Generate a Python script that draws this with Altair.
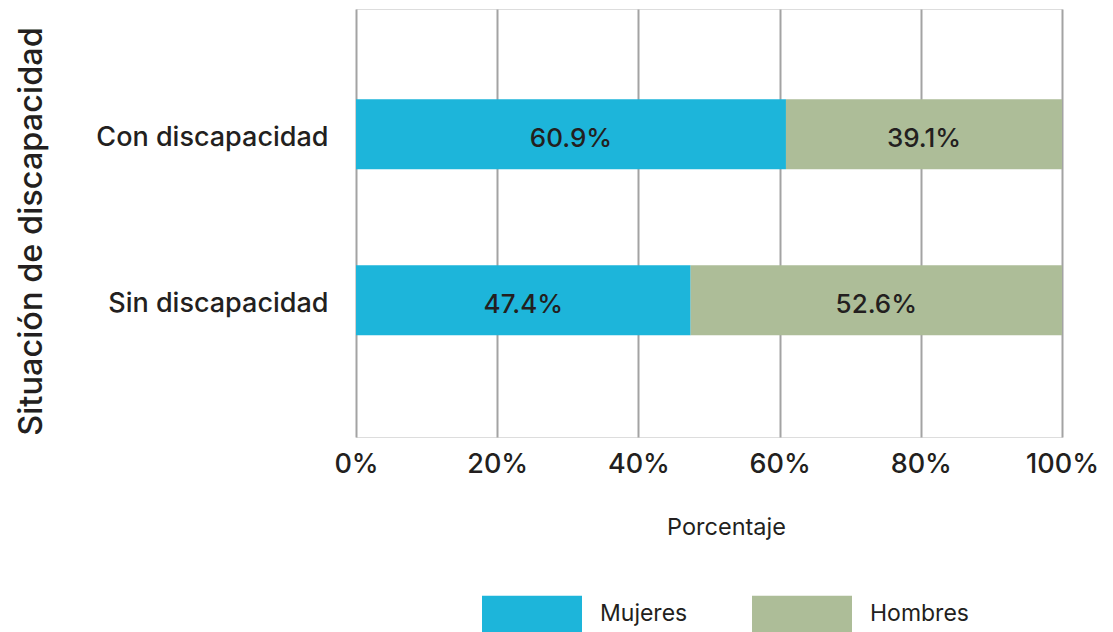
import altair as alt
import pandas as pd

categories = ["Con discapacidad", "Sin discapacidad"]
series = ["Mujeres", "Hombres"]
mujeres = [60.9, 47.4]
hombres = [39.1, 52.6]
colors = ["#1DB5DA", "#ADBD98"]
tick_values = [0, 20, 40, 60, 80, 100]

rows = []
for c, m, h in zip(categories, mujeres, hombres):
    rows.append({"cat": c, "sexo": series[0], "orden": 0, "valor": m})
    rows.append({"cat": c, "sexo": series[1], "orden": 1, "valor": h})
df = pd.DataFrame(rows)

FONT = "Inter"
TXT = "#231f20"

base = alt.Chart(df).transform_stack(
    stack="valor", groupby=["cat"], as_=["x0", "x1"], sort=[alt.SortField("orden")]
).transform_calculate(
    mid="(datum.x0 + datum.x1) / 2",
    label="format(datum.valor, '.1f') + '%'",
)

yscale = alt.Scale(domain=categories, paddingInner=0.578, paddingOuter=0.578, align=0.47)

bars = base.mark_bar(strokeWidth=0).encode(
    x=alt.X(
        "x0:Q",
        scale=alt.Scale(domain=[0, 100], nice=False),
        axis=alt.Axis(
            values=tick_values,
            labelExpr="datum.value + '%'",
            grid=True, gridColor="#a3a3a3", gridWidth=2,
            ticks=False, domain=False, labelFlush=False, labelOverlap=False,
            labelFont=FONT, labelFontWeight=500, labelFontSize=27, labelColor=TXT,
            labelPadding=14,
            titleFont=FONT, titleFontWeight="normal", titleFontSize=23.5, titleColor=TXT,
            titleBaseline="middle", titleY=90, titleX=370, titleAlign="center",
        ),
        title="Porcentaje",
    ),
    x2="x1:Q",
    y=alt.Y(
        "cat:N",
        scale=yscale,
        sort=categories,
        axis=alt.Axis(
            grid=False, ticks=False, domain=False, labelLimit=0,
            labelFont=FONT, labelFontWeight=500, labelFontSize=27, labelColor=TXT,
            labelPadding=28, labelOffset=4,
            titleFont=FONT, titleFontWeight=500, titleFontSize=32.5, titleColor=TXT,
            titleX=-315, titleY=222, titleAngle=-90, titleAlign="center",
            titleBaseline="alphabetic",
        ),
        title="Situación de discapacidad",
    ),
    color=alt.Color(
        "sexo:N",
        scale=alt.Scale(domain=series, range=colors),
        legend=alt.Legend(
            title=None, orient="none", direction="horizontal",
            legendX=126, legendY=580,
            symbolType="M-1,-0.74H3V0.74H-1Z", symbolSize=2500,
            symbolStrokeWidth=0, symbolOpacity=1,
            labelOffset=68, columnPadding=64,
            labelFont=FONT, labelFontSize=23, labelColor=TXT,
            padding=0,
        ),
    ),
)

text = base.mark_text(font=FONT, fontWeight=500, fontSize=26, color=TXT, dy=5).encode(
    x="mid:Q",
    y=alt.Y("cat:N", scale=yscale, sort=categories),
    text="label:N",
)

chart = alt.layer(bars, text).properties(
    width=706, height=428,
    autosize=alt.AutoSizeParams(type="none"),
    padding={"left": 356, "top": 9, "right": 51, "bottom": 195},
).configure_view(stroke=None).configure(background="white")

chart.save("out.html", embed_options={"renderer": "svg", "actions": False})
